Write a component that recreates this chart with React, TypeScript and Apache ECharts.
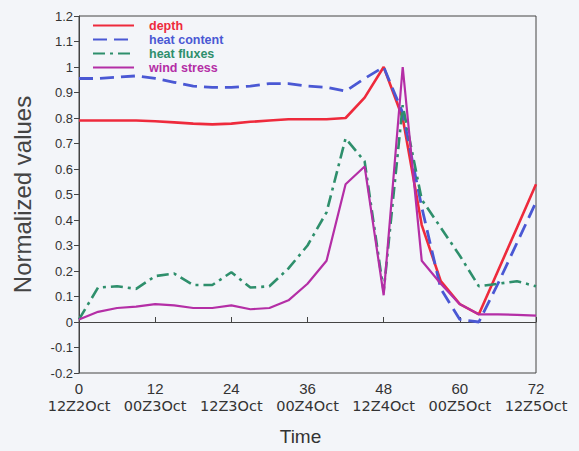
import React, { useEffect, useRef } from "react";
import * as echarts from "echarts";

const hours = [0, 3, 6, 9, 12, 15, 18, 21, 24, 27, 30, 33, 36, 39, 42, 45, 48, 51, 54, 57, 60, 63, 66, 69, 72];
const depth = [0.79, 0.79, 0.79, 0.79, 0.787, 0.783, 0.778, 0.775, 0.778, 0.785, 0.79, 0.795, 0.795, 0.795, 0.8, 0.88, 1.0, 0.8, 0.38, 0.16, 0.07, 0.03, 0.2, 0.37, 0.54];
const heatContent = [0.955, 0.955, 0.96, 0.965, 0.955, 0.94, 0.925, 0.92, 0.92, 0.925, 0.935, 0.935, 0.925, 0.92, 0.905, 0.955, 1.0, 0.82, 0.45, 0.13, 0.01, 0.0, 0.15, 0.31, 0.47];
const heatFluxes = [0.01, 0.135, 0.14, 0.13, 0.18, 0.19, 0.145, 0.145, 0.195, 0.135, 0.14, 0.21, 0.3, 0.43, 0.72, 0.63, 0.12, 0.85, 0.48, 0.37, 0.26, 0.14, 0.15, 0.16, 0.14];
const windStress = [0.01, 0.04, 0.055, 0.06, 0.07, 0.065, 0.055, 0.055, 0.065, 0.05, 0.055, 0.085, 0.15, 0.24, 0.54, 0.61, 0.105, 1.0, 0.24, 0.15, 0.07, 0.03, 0.03, 0.028, 0.025];

const xTicks = [0, 12, 24, 36, 48, 60, 72];
const dateLabels = ["12Z2Oct", "00Z3Oct", "12Z3Oct", "00Z4Oct", "12Z4Oct", "00Z5Oct", "12Z5Oct"];
const seriesNames = ["depth", "heat content", "heat fluxes", "wind stress"];

const RED = "#ee2a3c";
const BLUE = "#4a58d4";
const GREEN = "#2e8f6c";
const PURPLE = "#b42ea6";

export default function App() {
  const ref = useRef<HTMLDivElement>(null);
  useEffect(() => {
    document.body.style.margin = "0";
    const chart = echarts.init(ref.current!, null, { renderer: "svg" });
    const mk = (vals: number[]) => hours.map((h, i) => [h, vals[i]]);
    const colors = [RED, BLUE, GREEN, PURPLE];
    const types: any[] = ["solid", [14, 7], [12, 5, 3, 5], "solid"];
    const widths = [2.6, 2.8, 2.6, 2.2];
    const datas = [depth, heatContent, heatFluxes, windStress];
    chart.setOption({
      animation: false,
      backgroundColor: "#f3f5f9",
      grid: {
        left: 79,
        right: 43,
        top: 16,
        bottom: 75,
        show: true,
        borderColor: "#444",
        borderWidth: 1,
        backgroundColor: "transparent",
      },
      legend: {
        orient: "vertical",
        left: 87,
        top: 14,
        itemWidth: 41,
        itemHeight: 10,
        itemGap: 1,
        itemStyle: { opacity: 0 },
        textStyle: { fontFamily: "Liberation Sans", fontSize: 12.5, fontWeight: "bold", padding: [0, 0, 0, 10] },
        data: seriesNames.map((n, i) => ({ name: n, textStyle: { color: colors[i] } })),
      },
      xAxis: {
        type: "value",
        min: 0,
        max: 72,
        interval: 12,
        name: "Time",
        nameLocation: "middle",
        nameGap: 54,
        nameTextStyle: { fontFamily: "Liberation Sans", fontSize: 19, color: "#333", padding: [0, 14, 0, 0] },
        axisLine: { lineStyle: { color: "#444", width: 1 } },
        axisTick: { inside: true, length: 5, lineStyle: { color: "#444" } },
        splitLine: { show: false },
        axisLabel: {
          margin: 7,
          color: "#333",
          fontFamily: "DejaVu Sans",
          formatter: (v: number) => {
            const i = xTicks.indexOf(v);
            return `{n|${v}}\n{d|${i >= 0 ? dateLabels[i] : ""}}`;
          },
          rich: {
            n: { fontSize: 15, fontFamily: "Liberation Sans", color: "#333", lineHeight: 16 },
            d: { fontSize: 14.5, fontFamily: "DejaVu Sans", color: "#333", lineHeight: 19 },
          },
        },
      },
      yAxis: {
        type: "value",
        min: -0.2,
        max: 1.2,
        interval: 0.1,
        name: "Normalized values",
        nameLocation: "middle",
        nameGap: 45,
        nameTextStyle: { fontFamily: "Liberation Sans", fontSize: 24, color: "#444" },
        axisLine: { show: true, lineStyle: { color: "#444", width: 1 } },
        axisTick: { show: true, length: 5, lineStyle: { color: "#444" } },
        splitLine: { show: false },
        axisLabel: {
          margin: 6,
          color: "#333",
          fontFamily: "Liberation Sans",
          fontSize: 13,
          formatter: (v: number) => String(parseFloat(v.toFixed(1))),
        },
      },
      series: seriesNames.map((n, i) => ({
        name: n,
        type: "line",
        data: mk(datas[i]),
        symbol: "none",
        color: colors[i],
        lineStyle: { color: colors[i], width: widths[i], type: types[i] },
        z: 2 + i,
      })),
    });
    return () => chart.dispose();
  }, []);
  return <div ref={ref} style={{ width: 579, height: 451, position: "fixed", left: 0, top: 0 }} />;
}
